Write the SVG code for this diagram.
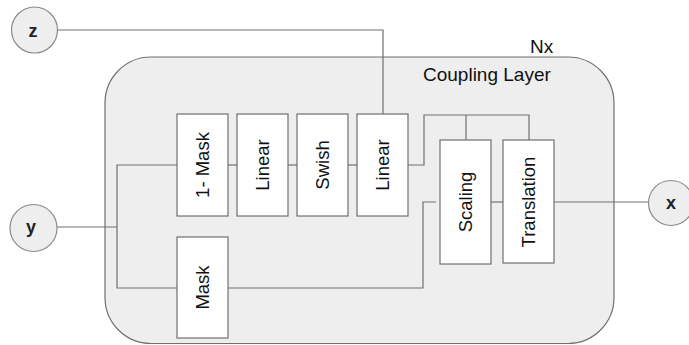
<svg xmlns="http://www.w3.org/2000/svg" width="689" height="345" viewBox="0 0 689 345">
  <style>
    .frame { fill: #eeeeee; stroke: #707070; stroke-width: 1.2; }
    .box { fill: #ffffff; stroke: #707070; stroke-width: 1.2; }
    .port { fill: #eeeeee; stroke: #8a8a8a; stroke-width: 1.2; }
    .wire { fill: none; stroke: #707070; stroke-width: 1.2; }
    .lbl { font-family: "Liberation Sans", Arial, sans-serif; font-size: 18.5px; fill: #111111; text-anchor: middle; }
    .var { font-family: "Liberation Sans", Arial, sans-serif; font-size: 18px; font-weight: bold; fill: #222222; text-anchor: middle; }
    .title { font-family: "Liberation Sans", Arial, sans-serif; font-size: 19px; fill: #111111; }
  </style>
  <rect width="689" height="345" fill="#ffffff"/>

  <!-- repeated coupling layer container -->
  <g id="coupling-layer">
    <rect class="frame" x="105" y="57" width="509" height="286.5" rx="46" ry="46"/>
    <text class="title" x="530" y="53">Nx</text>
    <text class="title" x="423" y="81">Coupling Layer</text>
  </g>

  <!-- connectors -->
  <g id="connectors">
    <polyline class="wire" points="58,30 383,30 383,114"/>
    <polyline class="wire" points="57,227 117,227"/>
    <polyline class="wire" points="177,165 117,165 117,288 177,288"/>
    <line class="wire" x1="228" y1="165" x2="237" y2="165"/>
    <line class="wire" x1="288" y1="165" x2="297" y2="165"/>
    <line class="wire" x1="348" y1="165" x2="357" y2="165"/>
    <polyline class="wire" points="408,165 424,165 424,115 529,115 529,140"/>
    <line class="wire" x1="466" y1="115" x2="466" y2="140"/>
    <polyline class="wire" points="224,288 423,288 423,202 436,202"/>
    <line class="wire" x1="491" y1="202" x2="503" y2="202"/>
    <line class="wire" x1="554" y1="202" x2="649" y2="202"/>
  </g>

  <!-- inputs / outputs -->
  <g id="z"><circle class="port" cx="34.5" cy="30" r="23"/><text class="var" x="33" y="36.5">z</text></g>
  <g id="y"><circle class="port" cx="33.5" cy="228" r="23.5"/><text class="var" x="31" y="233">y</text></g>
  <g id="x"><circle class="port" cx="671" cy="203" r="22.5"/><text class="var" x="671" y="209">x</text></g>

  <!-- layer blocks, labels rotated to read upward -->
  <g id="one-minus-mask">
    <rect class="box" x="177" y="114" width="51" height="102"/>
    <text class="lbl" transform="translate(202.5,165) rotate(-90)" y="6.6">1- Mask</text>
  </g>
  <g id="linear-1">
    <rect class="box" x="237" y="114" width="51" height="102"/>
    <text class="lbl" transform="translate(262.5,165) rotate(-90)" y="6.6">Linear</text>
  </g>
  <g id="swish">
    <rect class="box" x="297" y="114" width="51" height="102"/>
    <text class="lbl" transform="translate(322.5,165) rotate(-90)" y="6.6">Swish</text>
  </g>
  <g id="linear-2">
    <rect class="box" x="357" y="114" width="51" height="102"/>
    <text class="lbl" transform="translate(382.5,165) rotate(-90)" y="6.6">Linear</text>
  </g>
  <g id="mask">
    <rect class="box" x="177" y="237" width="51" height="101"/>
    <text class="lbl" transform="translate(202.5,287.5) rotate(-90)" y="6.6">Mask</text>
  </g>
  <g id="scaling">
    <rect class="box" x="440" y="140" width="51" height="124"/>
    <text class="lbl" transform="translate(465.5,202) rotate(-90)" y="6.6">Scaling</text>
  </g>
  <g id="translation">
    <rect class="box" x="503" y="140" width="51" height="123"/>
    <text class="lbl" transform="translate(528.5,202) rotate(-90)" y="6.6">Translation</text>
  </g>
</svg>
